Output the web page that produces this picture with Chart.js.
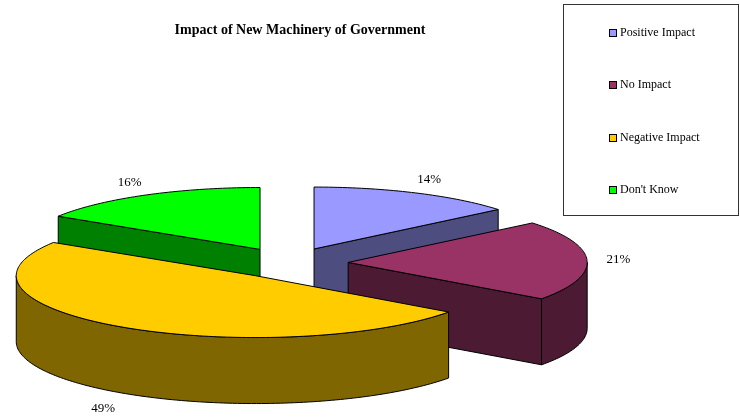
<!DOCTYPE html>
<html>
<head>
<meta charset="utf-8">
<title>Impact of New Machinery of Government</title>
<script src="https://cdn.jsdelivr.net/npm/chart.js@4.4.1/dist/chart.umd.min.js"></script>
<style>
    html, body { margin: 0; padding: 0; background: #fff; }
    #wrap { width: 740px; height: 418px; position: relative; }
</style>
</head>
<body>
<div id="wrap"><canvas id="myPieChart"></canvas></div>
<script>
var categories = ['Positive Impact', 'No Impact', 'Negative Impact', "Don't Know"];
var percentValues = [14, 21, 49, 16];
var topColors = ['#9999FF', '#993366', '#FFCC00', '#00FF00'];
var sideColors = ['#4D4D80', '#4D1A33', '#806600', '#008000'];

var SERIF = '"Liberation Serif", "Times New Roman", serif';
var TILT = 0.259;      // vertical squash of the pie top
var DEPTH = 66;        // thickness of the pie
var EXPLODE = 59.5;    // distance each slice is pulled out
var SHIFT_X = -11.3;   // pie sits a little left of the title centre

// pie controller that draws every slice pulled out and flattened
class Pie3DController extends Chart.PieController {
    draw() {
        var ctx = this.chart.ctx;
        var arcs = this._cachedMeta.data;
        if (!arcs.length) return;
        var cY = arcs[0].y;
        arcs.forEach(function (arc) {
            var mid = (arc.startAngle + arc.endAngle) / 2;
            ctx.save();
            ctx.translate(SHIFT_X, cY);
            ctx.scale(1, TILT);
            ctx.translate(0, -cY);
            ctx.translate(Math.cos(mid) * EXPLODE, Math.sin(mid) * EXPLODE);
            arc.draw(ctx);
            ctx.restore();
        });
    }
}
Pie3DController.id = 'pie3d';
Chart.register(Pie3DController);

// chart coords -> screen coords
function project(chart, x, y) {
    var c = chart.getDatasetMeta(0).data[0];
    return { x: x + SHIFT_X, y: c.y + (y - c.y) * TILT };
}

function getSlices(chart) {
    return chart.getDatasetMeta(0).data.map(function (el, i) {
        var mid = (el.startAngle + el.endAngle) / 2;
        return {
            i: i, mid: mid, r: el.outerRadius, a0: el.startAngle, a1: el.endAngle,
            cx: el.x + Math.cos(mid) * EXPLODE, cy: el.y + Math.sin(mid) * EXPLODE
        };
    });
}

function rimPoints(chart, g, from, to, drop) {
    var pts = [];
    var n = Math.max(2, Math.ceil((to - from) / 0.02));
    for (var k = 0; k <= n; k++) {
        var a = from + (to - from) * k / n;
        var p = project(chart, g.cx + g.r * Math.cos(a), g.cy + g.r * Math.sin(a));
        p.y += drop;
        pts.push(p);
    }
    return pts;
}

function tracePath(ctx, pts) {
    ctx.beginPath();
    ctx.moveTo(pts[0].x, pts[0].y);
    for (var k = 1; k < pts.length; k++) ctx.lineTo(pts[k].x, pts[k].y);
    ctx.closePath();
}

var pieSides = {
    id: 'pieSides',
    beforeDatasetsDraw: function (chart) {
        var ctx = chart.ctx;
        var slices = getSlices(chart);
        slices.sort(function (a, b) { return a.cy - b.cy; });

        ctx.save();
        ctx.strokeStyle = '#000';
        ctx.lineWidth = 1;
        ctx.lineJoin = 'round';
        slices.forEach(function (g) {
            ctx.fillStyle = sideColors[g.i];
            var c = project(chart, g.cx, g.cy);
            // cut faces that look towards the viewer
            [[g.a0, Math.cos(g.a0) < -1e-6], [g.a1, Math.cos(g.a1) > 1e-6]].forEach(function (e) {
                if (!e[1]) return;
                var p = project(chart, g.cx + g.r * Math.cos(e[0]), g.cy + g.r * Math.sin(e[0]));
                tracePath(ctx, [c, p, { x: p.x, y: p.y + DEPTH }, { x: c.x, y: c.y + DEPTH }]);
                ctx.fill();
                ctx.stroke();
            });
            // front part of the rim
            var from = Math.max(g.a0, 0), to = Math.min(g.a1, Math.PI);
            if (to > from) {
                var pts = rimPoints(chart, g, from, to, 0).concat(rimPoints(chart, g, from, to, DEPTH).reverse());
                tracePath(ctx, pts);
                ctx.fill();
                ctx.stroke();
            }
        });
        ctx.restore();
    },
    afterDatasetsDraw: function (chart) {
        var ctx = chart.ctx;
        var slices = getSlices(chart);
        ctx.save();
        ctx.strokeStyle = '#000';
        ctx.lineWidth = 1;
        ctx.lineJoin = 'round';
        slices.forEach(function (g) {
            var c = project(chart, g.cx, g.cy);
            tracePath(ctx, [c].concat(rimPoints(chart, g, g.a0, g.a1, 0)));
            ctx.stroke();
        });

        // percentage labels
        var base = chart.getDatasetMeta(0).data[0];
        ctx.fillStyle = '#000';
        ctx.font = '13px ' + SERIF;
        ctx.textAlign = 'center';
        ctx.textBaseline = 'middle';
        slices.forEach(function (g) {
            var dx = Math.cos(g.mid), dy = Math.sin(g.mid);
            var lx = base.x + SHIFT_X + dx * (g.r + 91);
            var ly = base.y + dy * (g.r * TILT + 30 + (dy > 0 ? DEPTH + 18 : 0));
            ctx.fillText(percentValues[g.i] + '%', lx, ly);
        });
        ctx.restore();
    },
    afterDraw: function (chart) {
        // legend box
        var ctx = chart.ctx;
        ctx.save();
        ctx.strokeStyle = '#333';
        ctx.lineWidth = 1;
        ctx.strokeRect(563.5, 4.5, 175, 211);
        ctx.font = '12px ' + SERIF;
        ctx.textBaseline = 'middle';
        ctx.textAlign = 'left';
        categories.forEach(function (name, i) {
            var y = Math.round(33 + i * 52.3);
            ctx.fillStyle = topColors[i];
            ctx.fillRect(609, y - 4, 8, 8);
            ctx.strokeStyle = '#000';
            ctx.strokeRect(609.5, y - 3.5, 7, 7);
            ctx.fillStyle = '#000';
            ctx.fillText(name, 620, y);
        });
        ctx.restore();
    }
};

function PieChartReport() {
    var ctx = document.getElementById('myPieChart').getContext('2d');
    window.pie = new Chart(ctx, {
        type: 'pie3d',
        data: {
            labels: categories,
            datasets: [{
                data: percentValues,
                backgroundColor: topColors,
                borderWidth: 0,
                radius: 239,
                clip: false
            }]
        },
        options: {
            responsive: true,
            maintainAspectRatio: false,
            animation: false,
            events: [],
            layout: { padding: { left: 0, right: 140, top: 0, bottom: 0 } },
            plugins: {
                legend: { display: false },
                tooltip: { enabled: false },
                title: {
                    display: true,
                    fullSize: false,
                    text: 'Impact of New Machinery of Government',
                    color: '#000',
                    font: { family: SERIF, size: 14, weight: 'bold' },
                    padding: { top: 22, bottom: 69 }
                }
            }
        },
        plugins: [pieSides]
    });
}

PieChartReport();
</script>
</body>
</html>
